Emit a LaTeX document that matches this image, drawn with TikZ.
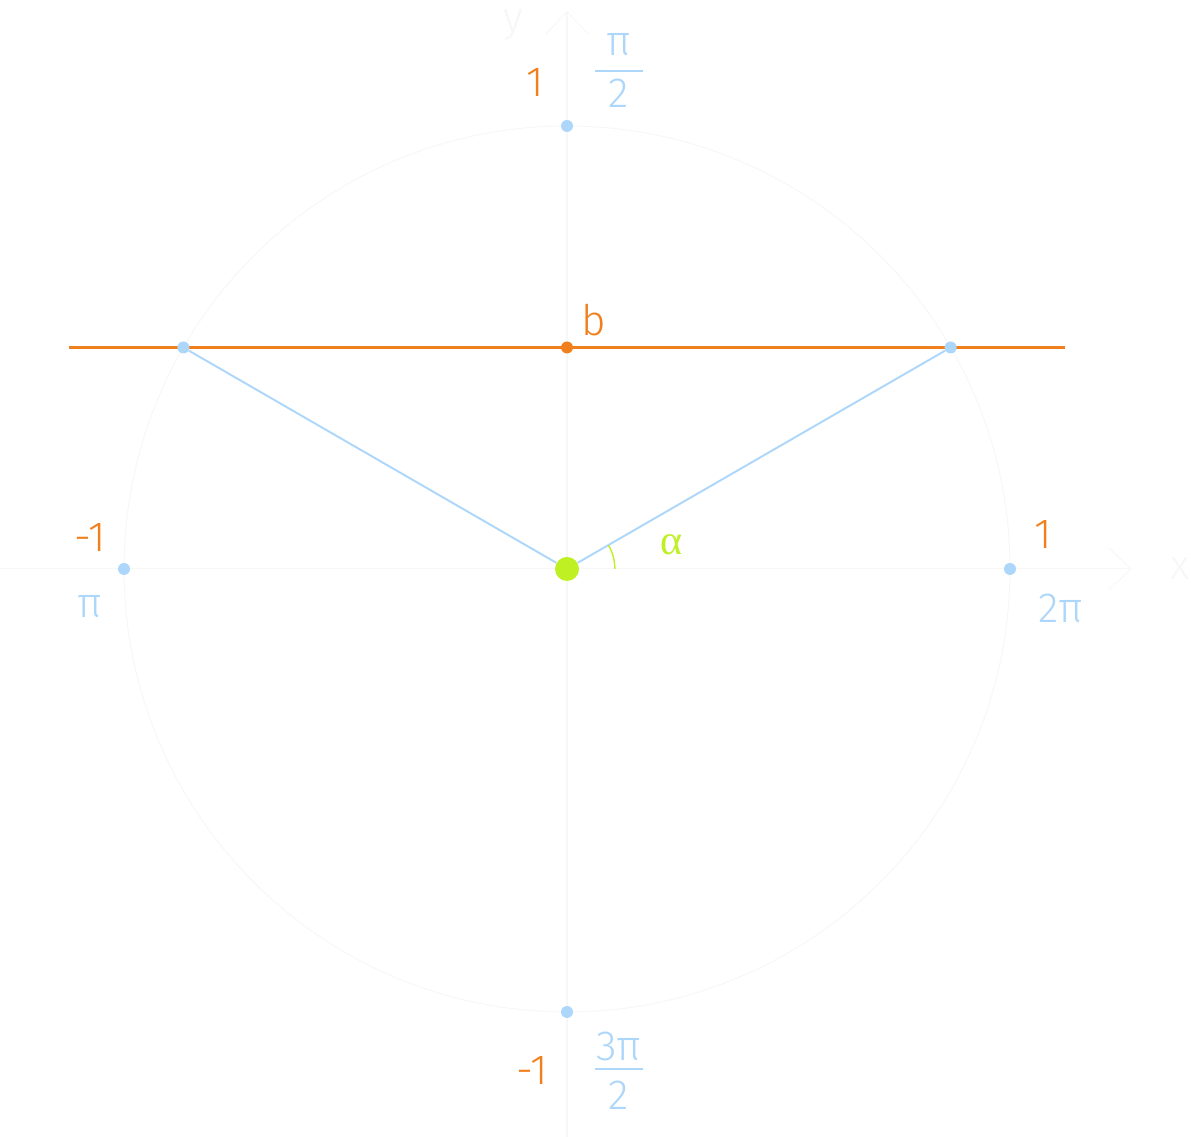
\documentclass[tikz,border=0pt]{standalone}
\usepackage{fontspec}
\setmainfont{Fira Sans}[UprightFont=* Light]
\newfontfamily\alphafont{Liberation Serif}
\usetikzlibrary{arrows.meta}
\definecolor{bline}{RGB}{240,128,30}
\definecolor{lblue}{HTML}{ADD6FB}
\definecolor{lgreen}{HTML}{BEF024}
\definecolor{faint}{HTML}{F7F7F7}
\tikzset{
  dot/.style={shape=circle,fill=lblue,inner sep=0pt,minimum size=0.24cm},
  lbl/.style={inner sep=0pt,font=\fontsize{24}{28}\selectfont},
  axis/.style={faint,line width=0.6pt,-{Straight Barb[length=0.45cm,width=0.85cm]}},
}
\begin{document}
\begin{tikzpicture}[x=8.86cm,y=8.86cm]
\useasboundingbox (-1.28,-1.2822) rectangle (1.4086,1.2844);
\draw[faint,line width=0.6pt] (0,0) circle (1);
\draw[axis] (-1.28,0) -- (1.275,0);
\draw[axis] (0,-1.2822) -- (0,1.26);
\node[lbl,text=faint] (X) at (1.384,0) {x};
\node[lbl,text=faint] (Y) at (-0.12,1.228) {y};

\node[dot] (U) at (0,1) {};
\node[dot] (D) at (0,-1) {};
\node[dot] (L) at (-1,0) {};
\node[dot] (R) at (1,0) {};
\coordinate (bl) at (-1.125,0.5);
\coordinate (br) at (1.125,0.5);
\draw[draw=bline,line width=1.2pt] (bl) -- (br);
\node[dot,fill=bline] (B) at (0,0.5) {};
\node[dot] (P) at (-0.866,0.5) {};
\node[dot] (Q) at (0.866,0.5) {};
\node[dot,fill=lgreen,minimum size=0.48cm] (O) at (0,0) {};

\draw[lblue,line width=1.1pt] (O) -- (P);
\draw[lblue,line width=1.1pt] (O) -- (Q);
\draw[lgreen,line width=0.8pt] (0.108,0) arc (0:30:0.108);

\node[lbl,text=bline] (u1) at (-0.072,1.099) {1};
\node[lbl,text=lblue] (u2) at (0.117,1.183) {π};
\node[lbl,text=lblue] (u3) at (0.117,1.074) {2};
\draw[lblue,line width=0.7pt] (0.063,1.124) -- (0.171,1.124);
\node[lbl,text=bline] (b) at (0.061,0.562) {b};
\node[lbl,text=bline] (l1) at (-1.077,0.072) {-1};
\node[lbl,text=lblue] (l2) at (-1.077,-0.086) {π};
\node[lbl,text=bline] (r1) at (1.074,0.077) {1};
\node[lbl,text=lblue] (r2) at (1.115,-0.09) {2π};
\node[lbl,text=bline] (d1) at (-0.079,-1.133) {-1};
\node[lbl,text=lblue] (d2) at (0.117,-1.077) {3π};
\node[lbl,text=lblue] (d3) at (0.117,-1.187) {2};
\draw[lblue,line width=0.7pt] (0.063,-1.129) -- (0.171,-1.129);
\node[lbl,text=lgreen] (a) at (0.235,0.054) {\alphafont α};
\end{tikzpicture}
\end{document}
